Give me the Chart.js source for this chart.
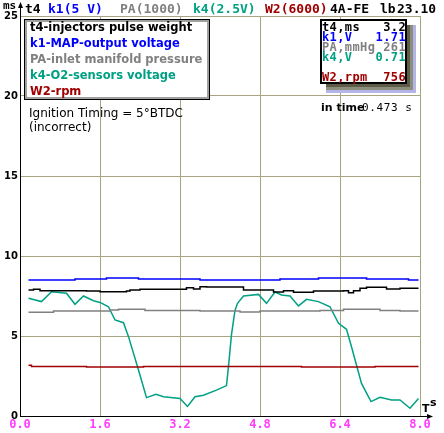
<!DOCTYPE html>
<html><head><meta charset="utf-8">
<script src="https://cdn.jsdelivr.net/npm/chart.js@4"></script>
<style>html,body{margin:0;padding:0;background:#fff;overflow:hidden}canvas{display:block}</style>
</head><body>
<canvas id="c" width="444" height="433"></canvas>
<script>
// ---- data (seconds, units of the ms scale) ----
const xTicks = [0, 1.6, 3.2, 4.8, 6.4, 8.0];
const yTicks = [0, 5, 10, 15, 20, 25];

const t4Time = [0.17,0.27,0.40,0.67,1.33,1.60,2.13,2.20,2.40,3.13,3.33,3.47,3.60,3.73,4.40,4.47,4.87,5.07,5.27,5.47,5.73,5.87,6.47,6.57,6.67,6.80,6.93,7.20,7.33,7.60,7.97];
const t4Vals = [7.88,7.92,7.83,7.83,7.81,7.77,7.81,7.88,7.92,7.92,8.02,7.94,8.08,8.06,8.06,7.88,7.88,7.75,7.83,7.73,7.73,7.81,7.83,7.71,7.83,7.98,8.04,8.04,7.94,7.98,7.98];

const k1Time = [0.17,1.10,1.73,2.37,3.60,5.20,5.97,6.93,7.77,7.97];
const k1Vals = [8.50,8.56,8.62,8.56,8.50,8.56,8.62,8.56,8.50,8.50];

const paTime = [0.17,0.67,1.80,1.97,2.50,3.60,4.40,4.80,6.00,6.47,7.20,7.60,7.97];
const paVals = [6.48,6.56,6.62,6.67,6.60,6.56,6.50,6.56,6.60,6.67,6.60,6.56,6.56];

const k4Time = [0.17,0.43,0.63,0.93,1.10,1.27,1.47,1.60,1.77,1.90,2.07,2.17,2.37,2.53,2.72,2.87,3.20,3.35,3.50,3.67,3.93,4.13,4.17,4.23,4.30,4.35,4.47,4.77,4.93,5.10,5.23,5.40,5.57,5.73,5.97,6.20,6.37,6.53,6.63,6.83,7.02,7.20,7.43,7.60,7.80,7.97];
const k4Vals = [7.36,7.15,7.77,7.67,6.98,7.50,7.20,7.10,6.83,6.00,5.83,4.96,2.87,1.15,1.35,1.20,1.10,0.60,1.20,1.30,1.62,1.90,3.10,5.10,6.60,7.04,7.50,7.60,7.04,7.75,7.56,7.50,6.88,7.29,7.15,6.83,5.79,5.42,4.33,2.04,0.90,1.17,1.00,1.00,0.48,1.10];

const w2Time = [0.17,0.23,1.33,2.47,5.63,7.10,7.97];
const w2Vals = [3.17,3.10,3.06,3.10,3.06,3.10,3.10];

const legendItems = ["t4-injectors pulse weight","k1-MAP-output voltage","PA-inlet manifold pressure","k4-O2-sensors voltage","W2-rpm"];
const headerItems = [["t4",25],["k1(5 V)",48],["PA(1000)",120],["k4(2.5V)",193],["W2(6000)",265],["4A-FE",330],["lb",380],["23.10",397]];
const readLabels = ["t4,ms","k1,V","PA,mmHg","k4,V","","W2,rpm"];
const readValues = ["3.2","1.71","261","0.71","","756"];

const C_T4 = "#000000", C_K1 = "#0000ff", C_PA = "#808080", C_K4 = "#00a084", C_W2 = "#a00000";
const seriesColors = [C_T4, C_K1, C_PA, C_K4, C_W2];
const headerColors = [C_T4, C_K1, C_PA, C_K4, C_W2, "#000", "#000", "#000"];
const GRID = "#a8a482";

const pts = (t, v) => t.map((x, i) => ({x, y: v[i]}));

const overlay = {
  id: 'overlay',
  beforeDraw(chart) {
    const ctx = chart.ctx;
    ctx.save(); ctx.fillStyle = '#fff'; ctx.fillRect(0, 0, chart.width, chart.height); ctx.restore();
  },
  afterDraw(chart) {
    const ctx = chart.ctx;
    const a = chart.chartArea;
    ctx.save();
    // header
    ctx.textBaseline = 'alphabetic';
    ctx.font = 'bold 13px "DejaVu Sans Mono"';
    headerItems.forEach(([s, x], i) => { ctx.fillStyle = headerColors[i]; ctx.fillText(s, x, 13); });
    ctx.font = 'bold 11px "DejaVu Sans Mono"';
    ctx.fillStyle = '#000';
    ctx.fillText('ms', 3, 9);
    // y axis arrow
    ctx.strokeStyle = '#000'; ctx.lineWidth = 1;
    ctx.beginPath(); ctx.moveTo(a.left + 0.5, a.top); ctx.lineTo(a.left + 0.5, 4); ctx.stroke();
    ctx.beginPath(); ctx.moveTo(a.left + 0.5, 2); ctx.lineTo(a.left - 2, 8); ctx.lineTo(a.left + 3, 8); ctx.closePath(); ctx.fill();
    // x axis arrow
    ctx.beginPath(); ctx.moveTo(a.right, a.bottom + 0.5); ctx.lineTo(a.right + 10, a.bottom + 0.5); ctx.stroke();
    ctx.beginPath(); ctx.moveTo(a.right + 13, a.bottom + 0.5); ctx.lineTo(a.right + 7, a.bottom - 2); ctx.lineTo(a.right + 7, a.bottom + 3); ctx.closePath(); ctx.fill();
    ctx.font = 'bold 11px "DejaVu Sans"';
    ctx.fillText('T', a.right + 2, a.bottom - 4);
    ctx.fillText('s', a.right + 10, a.bottom - 10);

    // legend box
    ctx.fillStyle = '#fff'; ctx.fillRect(24, 19, 186, 81);
    ctx.strokeStyle = '#000'; ctx.lineWidth = 1; ctx.strokeRect(24.5, 19.5, 185, 80);
    ctx.strokeStyle = '#a0a0a0'; ctx.lineWidth = 2; ctx.strokeRect(26, 21, 182, 77);
    ctx.font = 'bold 11.5px "DejaVu Sans"';
    ctx.textBaseline = 'middle';
    legendItems.forEach((s, i) => { ctx.fillStyle = seriesColors[i]; ctx.fillText(s, 30, 28.5 + i * 15.9); });

    // read-out box with shadow
    ctx.fillStyle = '#b4b4e6'; ctx.fillRect(326, 25, 90, 68);
    ctx.fillStyle = '#8e8e7c'; ctx.fillRect(326, 25, 87, 65);
    ctx.fillStyle = '#5c5c48'; ctx.fillRect(326, 25, 84, 62);
    ctx.fillStyle = '#fff'; ctx.fillRect(320, 19, 87, 65);
    ctx.strokeStyle = '#000'; ctx.lineWidth = 2; ctx.strokeRect(321, 20, 85, 63);
    ctx.textBaseline = 'alphabetic';
    ctx.font = 'bold 12px "DejaVu Sans Mono"';
    ctx.letterSpacing = '0.4px';
    const rowY = [31, 41, 51, 61, 71, 81];
    readLabels.forEach((s, i) => {
      if (!s) return;
      ctx.fillStyle = seriesColors[[0,1,2,3,4,4][i]];
      ctx.textAlign = 'left'; ctx.fillText(s, 322, rowY[i]);
      ctx.textAlign = 'right'; ctx.fillText(readValues[i], 406, rowY[i]);
    });
    ctx.textAlign = 'left';
    ctx.letterSpacing = '0px';

    // annotations
    ctx.fillStyle = '#000';
    ctx.font = 'bold 11px "DejaVu Sans"';
    ctx.fillText('in time', 321, 111);
    ctx.font = '11px "DejaVu Sans Mono"';
    ctx.letterSpacing = '0.6px';
    ctx.fillText('0.473 s', 362, 111);
    ctx.letterSpacing = '0px';
    ctx.font = '12px "DejaVu Sans"';
    ctx.fillText('Ignition Timing = 5°BTDC', 29, 117);
    ctx.fillText('(incorrect)', 29, 131);
    ctx.restore();
  }
};

const ds = (t, v, c, stepped) => ({data: pts(t, v), borderColor: c, borderWidth: 1.5, pointRadius: 0, stepped, fill: false, tension: 0});

new Chart(document.getElementById('c'), {
  type: 'line',
  data: { datasets: [
    ds(w2Time, w2Vals, C_W2, true),
    ds(paTime, paVals, C_PA, true),
    ds(k1Time, k1Vals, C_K1, true),
    ds(t4Time, t4Vals, C_T4, true),
    ds(k4Time, k4Vals, C_K4, false)
  ]},
  options: {
    responsive: false, animation: false, devicePixelRatio: 1,
    layout: { padding: { left: 4, right: 24, top: 16, bottom: 0 } },
    plugins: { legend: { display: false }, tooltip: { enabled: false } },
    scales: {
      x: {
        type: 'linear', min: 0, max: 8,
        afterBuildTicks: s => { s.ticks = xTicks.map(v => ({value: v})); },
        afterFit: s => { s.height = 17; },
        grid: { color: GRID, lineWidth: 1, drawTicks: false },
        border: { color: '#000', width: 1 },
        ticks: { color: '#ff3cff', font: { family: 'DejaVu Sans Mono', size: 12, weight: 'bold' }, padding: 2, maxRotation: 0, callback: v => Number(v).toFixed(1) }
      },
      y: {
        type: 'linear', min: 0, max: 25,
        afterBuildTicks: s => { s.ticks = yTicks.map(v => ({value: v})); },
        afterFit: s => { s.width = 16; },
        grid: { color: GRID, lineWidth: 1, drawTicks: false },
        border: { color: '#000', width: 1 },
        ticks: { color: '#000', font: { family: 'DejaVu Sans', size: 10, weight: 'bold' }, padding: 2 }
      }
    }
  },
  plugins: [overlay]
});
</script>
</body></html>
